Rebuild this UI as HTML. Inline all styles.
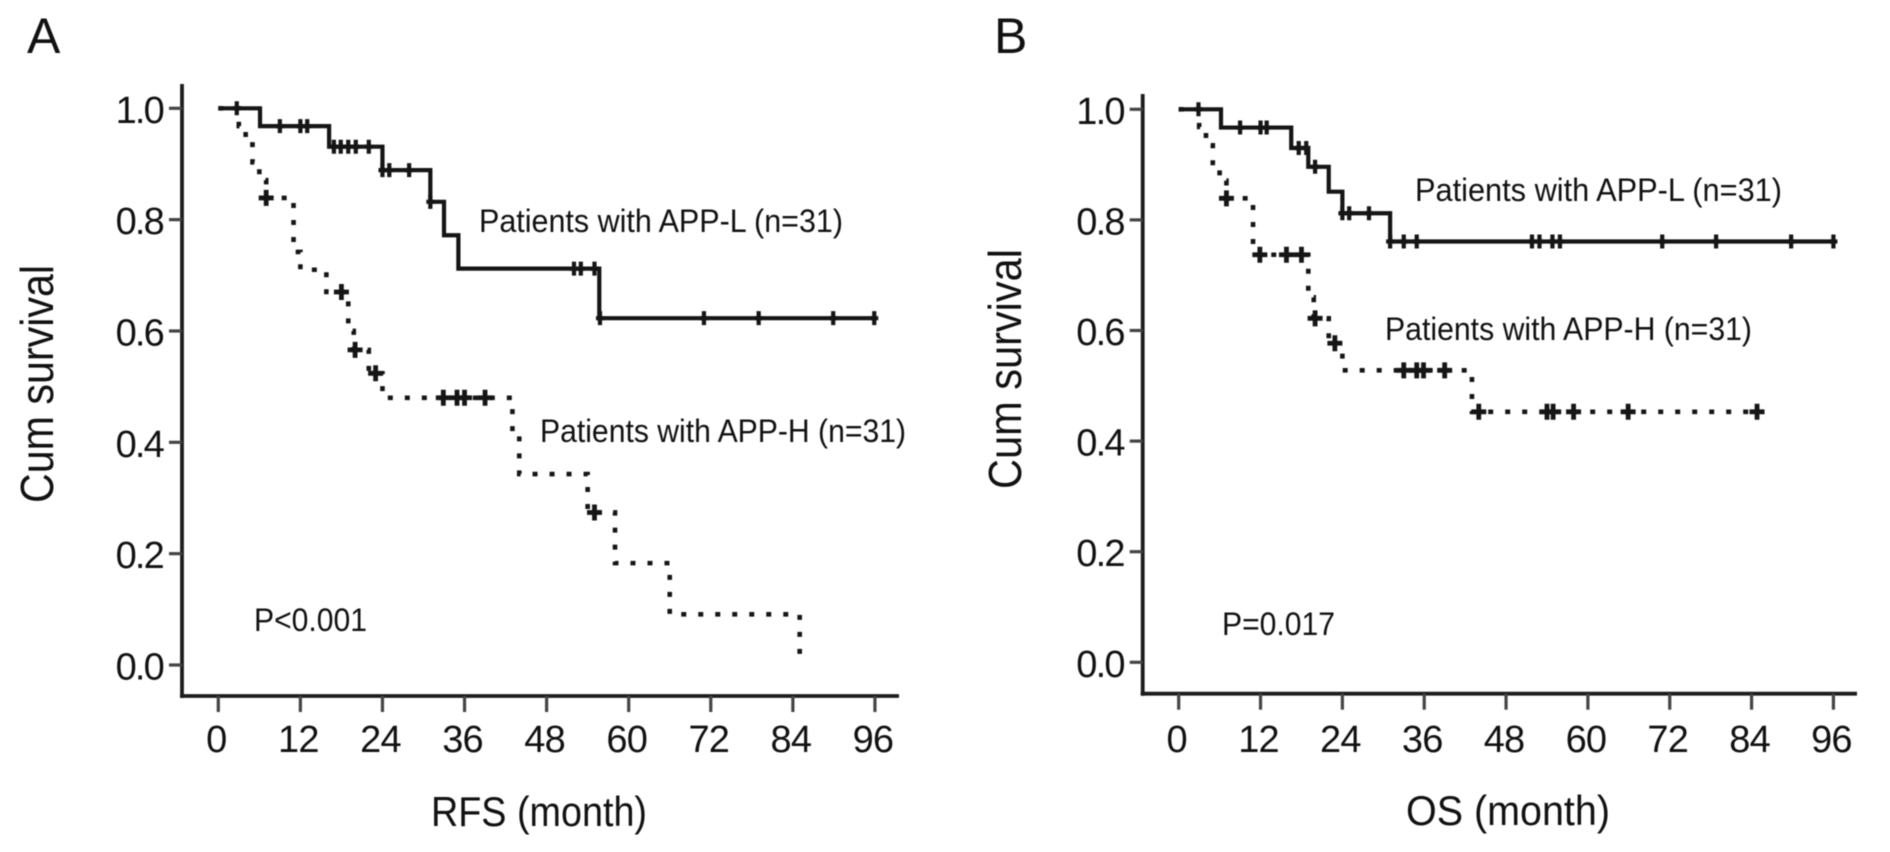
<!DOCTYPE html>
<html lang="en">
<head>
<meta charset="utf-8">
<title>Kaplan-Meier survival curves: RFS and OS by APP group</title>
<style>
  html, body { margin: 0; padding: 0; background: #fff; }
  #figure { display: block; width: 1890px; height: 852px; filter: blur(0.45px); }
  text { font-family: "Liberation Sans", Arial, sans-serif; fill: #111; }
</style>
</head>
<body>
<svg id="figure" xmlns="http://www.w3.org/2000/svg" width="1890" height="852" viewBox="0 0 1890 852">
  <rect x="0" y="0" width="1890" height="852" fill="#ffffff"/>

  <g id="panel-a"></g>
  <g id="panel-b"></g>

  <text x="27" y="53" font-size="50">A</text>
  <text x="994" y="53" font-size="50">B</text>

  <text transform="translate(53,503) rotate(-90)" font-size="46" textLength="238" lengthAdjust="spacingAndGlyphs">Cum survival</text>
  <text transform="translate(1021,489) rotate(-90)" font-size="46" textLength="240" lengthAdjust="spacingAndGlyphs">Cum survival</text>

  <text x="431" y="826" font-size="42" textLength="216" lengthAdjust="spacingAndGlyphs">RFS (month)</text>
  <text x="1406" y="825" font-size="42" textLength="204" lengthAdjust="spacingAndGlyphs">OS (month)</text>

  <text x="479" y="232" font-size="32" textLength="364" lengthAdjust="spacingAndGlyphs">Patients with APP-L (n=31)</text>
  <text x="540" y="442" font-size="32" textLength="366" lengthAdjust="spacingAndGlyphs">Patients with APP-H (n=31)</text>
  <text x="1415" y="201" font-size="32" textLength="367" lengthAdjust="spacingAndGlyphs">Patients with APP-L (n=31)</text>
  <text x="1385" y="340" font-size="32" textLength="367" lengthAdjust="spacingAndGlyphs">Patients with APP-H (n=31)</text>

  <text x="254" y="631" font-size="32" textLength="113" lengthAdjust="spacingAndGlyphs">P&lt;0.001</text>
  <text x="1222" y="635" font-size="32" textLength="113" lengthAdjust="spacingAndGlyphs">P=0.017</text>
</svg>

<script>
const xTickValues = [0, 12, 24, 36, 48, 60, 72, 84, 96];
const yTickValues = [0, 0.2, 0.4, 0.6, 0.8, 1];
const yTickLabels = ['0.0', '0.2', '0.4', '0.6', '0.8', '1.0'];

const rfsLowTimes = [0, 6.1, 16.2, 24, 31, 33, 35.1, 55.7, 96];
const rfsLowSurvival = [1, 0.968, 0.931, 0.889, 0.832, 0.772, 0.712, 0.623, 0.623];
const rfsLowCensored = [2.7, 9, 12, 13, 16.9, 17.9, 19, 20.1, 22, 24, 25, 27.9, 31, 52, 53, 55, 55.8, 71, 79, 89.9, 95.9];

const rfsHighTimes = [0, 3, 4, 5, 6, 7, 11, 12, 15.8, 19, 19.8, 22, 24, 43, 44, 54, 58, 66, 85];
const rfsHighSurvival = [1, 0.968, 0.935, 0.903, 0.871, 0.839, 0.742, 0.71, 0.67, 0.6, 0.566, 0.524, 0.48, 0.411, 0.343, 0.274, 0.183, 0.091, 0.005];
const rfsHighCensored = [7, 18, 20, 23, 32.9, 34.9, 36, 39, 55];

const osLowTimes = [0, 6.2, 16.5, 19, 22, 24, 31, 96];
const osLowSurvival = [1, 0.967, 0.93, 0.896, 0.851, 0.812, 0.761, 0.761];
const osLowCensored = [2.9, 9, 12, 12.9, 17.6, 18.7, 20, 24, 25, 27.9, 31, 33, 34.9, 51.8, 52.9, 54.8, 55.9, 70.9, 78.8, 89.8, 96];

const osHighTimes = [0, 3, 4, 5, 6, 7, 10.9, 19, 19.8, 22, 24, 43, 84.8];
const osHighSurvival = [1, 0.968, 0.935, 0.903, 0.871, 0.839, 0.737, 0.66, 0.622, 0.577, 0.528, 0.453, 0.453];
const osHighCensored = [7, 11.9, 15.8, 18, 20, 22.9, 33, 34.9, 35.9, 39, 44, 54, 54.9, 57.9, 65.9, 84.8];

const SVG_NS = 'http://www.w3.org/2000/svg';

function make(parent, tag, attrs) {
  const el = document.createElementNS(SVG_NS, tag);
  for (const key in attrs) el.setAttribute(key, attrs[key]);
  parent.appendChild(el);
  return el;
}

function survivalAt(times, survival, t) {
  let value = survival[0];
  for (let i = 0; i < times.length; i++) {
    if (times[i] <= t) value = survival[i];
  }
  return value;
}

function stepPath(times, survival, xScale, yScale) {
  let d = 'M' + xScale(times[0]) + ' ' + yScale(survival[0]);
  for (let i = 1; i < times.length; i++) {
    d += ' H' + xScale(times[i]) + ' V' + yScale(survival[i]);
  }
  return d;
}

function drawAxes(group, prefix, geo, xScale, yScale) {
  const yAxis = make(group, 'line', { x1: geo.axisX, y1: geo.axisTop, x2: geo.axisX, y2: geo.axisY + 2, stroke: '#1c1c1c', 'stroke-width': 3.8 });
  
  

  const xAxis = make(group, 'line', { x1: geo.axisX - 2, y1: geo.axisY, x2: geo.axisRight, y2: geo.axisY, stroke: '#1c1c1c', 'stroke-width': 3.8 });
  
  

  xTickValues.forEach(function (value) {
    const px = xScale(value);
    const tick = make(group, 'line', { x1: px, y1: geo.axisY, x2: px, y2: geo.axisY + 16, stroke: '#444', 'stroke-width': 3.2 });
    
    
    const label = make(group, 'text', { x: px - 2, y: 752, 'font-size': 38, 'text-anchor': 'middle', 'letter-spacing': -0.8 });
    label.textContent = String(value);
    
    
  });

  yTickValues.forEach(function (value, i) {
    const py = yScale(value);
    const tick = make(group, 'line', { x1: geo.axisX - 13, y1: py, x2: geo.axisX, y2: py, stroke: '#444', 'stroke-width': 3.2 });
    
    
    const label = make(group, 'text', { x: geo.axisX - 19, y: py + 14.5, 'font-size': 38, 'text-anchor': 'end', 'letter-spacing': -1.8 });
    label.textContent = yTickLabels[i];
    
    
  });
}

function drawSeries(group, prefix, times, survival, censored, xScale, yScale, dotted) {
  const attrs = { d: stepPath(times, survival, xScale, yScale), fill: 'none', stroke: '#151515', 'stroke-width': dotted ? 4.6 : 4.2 };
  if (dotted) attrs['stroke-dasharray'] = '5 12';
  const line = make(group, 'path', attrs);
  
  

  censored.forEach(function (t) {
    const px = xScale(t);
    const py = yScale(survivalAt(times, survival, t));
    const armV = dotted ? 8 : 7;
    const armH = dotted ? 7.5 : 4;
    const mark = make(group, 'path', {
      d: 'M' + (px - armH) + ' ' + py + ' H' + (px + armH) + ' M' + px + ' ' + (py - armV) + ' V' + (py + armV),
      fill: 'none', stroke: '#151515', 'stroke-width': dotted ? 4.8 : 4.2
    });
    
    
  });
}

function xScaleA(t) { return 218.3 + 6.84 * t; }
function yScaleA(v) { return 665 - 556.7 * v; }
function xScaleB(t) { return 1178.7 + 6.82 * t; }
function yScaleB(v) { return 662.3 - 553 * v; }

const groupA = document.getElementById('panel-a');
const groupB = document.getElementById('panel-b');

drawAxes(groupA, 'panel-a', { axisX: 182, axisTop: 84, axisY: 696, axisRight: 899 }, xScaleA, yScaleA);
drawSeries(groupA, 'panel-a-app-h', rfsHighTimes, rfsHighSurvival, rfsHighCensored, xScaleA, yScaleA, true);
drawSeries(groupA, 'panel-a-app-l', rfsLowTimes, rfsLowSurvival, rfsLowCensored, xScaleA, yScaleA, false);

drawAxes(groupB, 'panel-b', { axisX: 1142.7, axisTop: 94, axisY: 693.7, axisRight: 1857 }, xScaleB, yScaleB);
drawSeries(groupB, 'panel-b-app-h', osHighTimes, osHighSurvival, osHighCensored, xScaleB, yScaleB, true);
drawSeries(groupB, 'panel-b-app-l', osLowTimes, osLowSurvival, osLowCensored, xScaleB, yScaleB, false);
</script>
</body>
</html>
